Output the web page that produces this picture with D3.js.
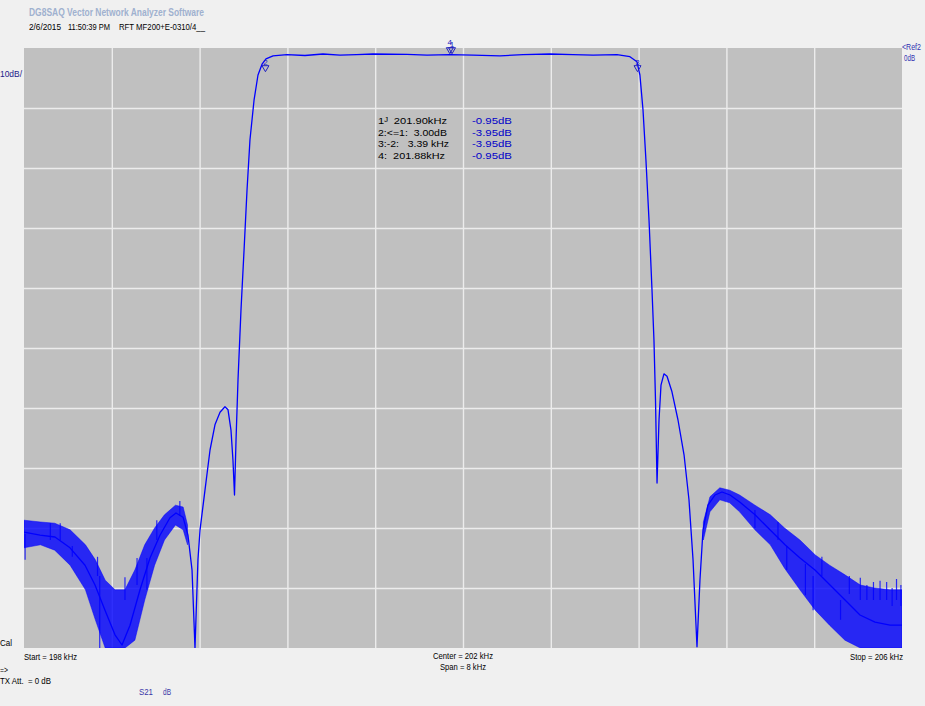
<!DOCTYPE html>
<html><head><meta charset="utf-8">
<script src="https://cdn.jsdelivr.net/npm/d3@7"></script>
<style>html,body{margin:0;padding:0;background:#f0f0f0;overflow:hidden}</style>
</head><body>
<svg id="chart" width="925" height="706"></svg>
<script>
// ---------------- DATA (kHz, dB) ----------------
const freqTicks = [198.8, 199.6, 200.4, 201.2, 202.0, 202.8, 203.6, 204.4, 205.2];
const dbTicks = [-10, -20, -30, -40, -50, -60, -70, -80, -90];

// S21 trace (mean line)
const traceFreq = [198.000,198.146,198.282,198.419,198.556,198.647,198.738,198.829,198.893,198.966,199.057,199.148,199.239,199.330,199.385,199.449,199.494,199.531,199.558,199.585,199.604,199.649,199.695,199.740,199.786,199.831,199.859,199.886,199.904,199.918,199.932,199.950,199.977,200.005,200.032,200.059,200.096,200.132,200.169,200.205,200.269,200.396,200.560,200.724,200.879,201.030,201.180,201.490,201.672,201.882,202.091,202.337,202.547,202.793,203.002,203.185,203.403,203.521,203.585,203.612,203.640,203.667,203.695,203.722,203.740,203.754,203.768,203.786,203.804,203.831,203.859,203.904,203.959,204.014,204.059,204.096,204.132,204.159,204.187,204.232,204.296,204.360,204.433,204.524,204.661,204.797,204.934,205.071,205.207,205.344,205.481,205.617,205.754,205.891,206.000];
const traceDb = [-80.7,-81.2,-81.5,-83.3,-86.2,-89.5,-93.7,-97.8,-99.5,-96.2,-90.3,-85.0,-81.2,-78.3,-77.5,-78.2,-81.2,-87.0,-100,-85.3,-80.3,-73.7,-67.0,-62.8,-60.7,-59.8,-60.3,-63.7,-68.7,-74.5,-65.3,-55.3,-43.7,-33.7,-23.7,-15.3,-8.7,-4.5,-2.7,-1.8,-1.3,-1.1,-1.25,-1.0,-1.2,-1.1,-1.0,-1.05,-1.2,-1.1,-1.2,-1.3,-1.1,-1.0,-1.1,-1.2,-1.1,-1.45,-2.3,-4.5,-10.3,-18.7,-28.7,-40.3,-48.7,-58.7,-72.5,-62.0,-56.2,-54.3,-54.7,-57.3,-62.0,-67.8,-75.3,-85.3,-99.8,-88.7,-80.3,-76.2,-74.5,-74.0,-74.5,-75.7,-77.8,-80.3,-82.8,-85.0,-87.0,-89.5,-92.0,-94.5,-95.7,-96.2,-96.2];

// Noise envelope (upper / lower), left stopband
const noiseLFreq = [198.00,198.15,198.28,198.42,198.56,198.65,198.74,198.83,198.92,199.01,199.10,199.19,199.28,199.38,199.45,199.49];
const noiseLHi   = [-78.7,-79.0,-79.2,-80.3,-82.8,-85.3,-88.7,-90.3,-90.3,-87.0,-82.8,-80.0,-77.8,-76.2,-76.5,-79.5];
const noiseLLo   = [-83.3,-82.8,-83.7,-86.2,-90.3,-95.3,-100,-100,-100,-98.7,-92.0,-86.2,-82.0,-79.5,-80.3,-82.8];
// Noise envelope, right stopband
const noiseRFreq = [204.19,204.25,204.34,204.43,204.52,204.66,204.80,204.93,205.07,205.21,205.34,205.48,205.62,205.75,205.89,206.00];
const noiseRHi   = [-79.0,-74.8,-73.3,-73.7,-74.5,-76.2,-77.8,-80.0,-82.0,-84.5,-86.2,-87.8,-89.5,-90.0,-90.3,-90.3];
const noiseRLo   = [-82.0,-77.3,-75.3,-75.8,-77.3,-80.3,-82.8,-86.7,-90.3,-93.7,-96.2,-98.7,-100,-100,-100,-100];
// Individual noise spikes (freq, top dB, bottom dB)
const spikeFreq = [198.01,198.24,198.33,198.44,198.67,198.69,198.92,199.03,199.12,199.21,199.42,204.66,204.87,204.95,205.12,205.19,205.27,205.44,205.62,205.74,205.86,205.95,205.52,205.68,205.80,205.91,205.99];
const spikeTop  = [-81.0,-79.2,-79.2,-83.0,-84.8,-88.0,-88.2,-85.0,-85.0,-78.7,-75.5,-77.0,-79.0,-83.0,-86.0,-88.0,-84.8,-92.0,-88.3,-89.0,-89.0,-88.5,-88.0,-89.5,-88.8,-90.0,-89.5];
const spikeBot  = [-85.3,-82.0,-82.0,-84.8,-88.0,-100,-92.0,-89.5,-90.3,-82.0,-78.0,-80.0,-82.0,-87.0,-91.2,-93.7,-88.0,-95.3,-92.0,-92.0,-92.0,-92.0,-91.0,-92.0,-92.0,-93.0,-93.0];

// Markers
const markerIds  = ["1", "2", "3", "4"];
const markerFreq = [201.90, 200.20, 203.59, 201.88];
const markerDb   = [-0.95, -3.95, -3.95, -0.95];
const tableLeft  = ["1\u1D36  201.90kHz", "2:<=1:  3.00dB", "3:-2:   3.39 kHz", "4:  201.88kHz"];
const tableRight = ["-0.95dB", "-3.95dB", "-3.95dB", "-0.95dB"];

// ---------------- DRAW ----------------
const svg = d3.select("#chart");
const L = 24, R = 902, T = 48, B = 648;
const x = d3.scaleLinear().domain([198, 206]).range([L, R]);
const y = d3.scaleLinear().domain([-100, 0]).range([B, T]);

svg.append("rect").attr("width", 925).attr("height", 706).attr("fill", "#f0f0f0");
svg.append("rect").attr("x", L).attr("y", T).attr("width", R - L).attr("height", B - T).attr("fill", "#c0c0c0");

const gx = svg.append("g").attr("transform", `translate(0,${B})`)
  .call(d3.axisBottom(x).tickValues(freqTicks).tickSize(-(B - T)).tickFormat(""));
gx.select(".domain").remove();
gx.selectAll("line").attr("stroke", "#ececec").attr("stroke-width", 1.4);
const gy = svg.append("g").attr("transform", `translate(${L},0)`)
  .call(d3.axisLeft(y).tickValues(dbTicks).tickSize(-(R - L)).tickFormat(""));
gy.select(".domain").remove();
gy.selectAll("line").attr("stroke", "#ececec").attr("stroke-width", 1.4);

svg.append("clipPath").attr("id", "clip").append("rect")
  .attr("x", L).attr("y", T - 12).attr("width", R - L).attr("height", B - T + 12);
const plot = svg.append("g").attr("clip-path", "url(#clip)");

const blue = "#0000ff";
const area = d3.area().x(d => x(d[0])).y0(d => y(d[2])).y1(d => y(d[1]));
plot.append("path").datum(noiseLFreq.map((f, i) => [f, noiseLHi[i], noiseLLo[i]]))
  .attr("d", area).attr("fill", blue).attr("fill-opacity", 0.8).attr("stroke", blue).attr("stroke-width", 0.8).attr("stroke-opacity", 0.6);
plot.append("path").datum(noiseRFreq.map((f, i) => [f, noiseRHi[i], noiseRLo[i]]))
  .attr("d", area).attr("fill", blue).attr("fill-opacity", 0.8).attr("stroke", blue).attr("stroke-width", 0.8).attr("stroke-opacity", 0.6);

plot.selectAll("line.spike").data(spikeFreq).join("line").attr("class", "spike")
  .attr("x1", d => x(d)).attr("x2", d => x(d))
  .attr("y1", (d, i) => y(spikeTop[i])).attr("y2", (d, i) => y(spikeBot[i]))
  .attr("stroke", blue).attr("stroke-width", 1.2).attr("stroke-opacity", 0.8);

const line = d3.line().x(d => x(d[0])).y(d => y(d[1]));
plot.append("path").datum(traceFreq.map((f, i) => [f, traceDb[i]]))
  .attr("d", line).attr("fill", "none").attr("stroke", blue).attr("stroke-width", 1.3).attr("stroke-linejoin", "round");

// markers
const mcol = "#2020c0";
markerIds.forEach((id, i) => {
  const mx = x(markerFreq[i]), my = y(markerDb[i]);
  svg.append("path").attr("d", `M${mx - 3.5},${my - 6}L${mx + 3.5},${my - 6}L${mx},${my}Z`)
    .attr("fill", "none").attr("stroke", mcol).attr("stroke-width", 1);
  svg.append("text").attr("x", mx).attr("y", my - (id === "4" ? 9 : 7)).attr("text-anchor", "middle")
    .attr("font-family", "Liberation Sans, Arial, sans-serif").attr("font-size", 8).attr("fill", mcol).text(id);
});

// text helper
function txt(px, py, s, len, opt = {}) {
  const t = svg.append("text").attr("x", px).attr("y", py)
    .attr("font-family", "Liberation Sans, Arial, sans-serif")
    .attr("font-size", opt.size || 9.5)
    .attr("font-weight", opt.weight || "normal")
    .attr("fill", opt.color || "#000")
    .style("white-space", "pre").text(s);
  if (len) t.attr("textLength", len).attr("lengthAdjust", "spacingAndGlyphs");
  return t;
}

txt(29, 16, "DG8SAQ Vector Network Analyzer Software", 175, {weight: "bold", color: "#9fb1cf", size: 10});
txt(29, 30, "2/6/2015", 32);
txt(68, 30, "11:50:39 PM", 42);
txt(119, 30, "RFT MF200+E-0310/4__", 86);
txt(0, 77, "10dB/", 22, {color: "#20208a"});
txt(902, 50, "<Ref2", 19, {color: "#3030b0", size: 8.5});
txt(904, 61, "0dB", 11, {color: "#3030b0"});
txt(0, 646, "Cal", 12);
txt(24, 660, "Start = 198 kHz", 53);
txt(433, 659, "Center = 202 kHz", 60);
txt(440, 670, "Span = 8 kHz", 46);
txt(850, 660, "Stop = 206 kHz", 53);
txt(0, 673, "=>", 8);
txt(0, 684, "TX Att.  = 0 dB", 51);
txt(139, 695, "S21", 14, {color: "#3838a8"});
txt(163, 695, "dB", 8, {color: "#3838a8"});

const rowY = [124, 135.5, 147, 158.5];
const leftW = [69, 69, 71, 67];
tableLeft.forEach((s, i) => txt(378, rowY[i], s, leftW[i]));
tableRight.forEach((s, i) => txt(472, rowY[i], s, 40, {color: "#0000c8"}));
</script>
</body></html>
